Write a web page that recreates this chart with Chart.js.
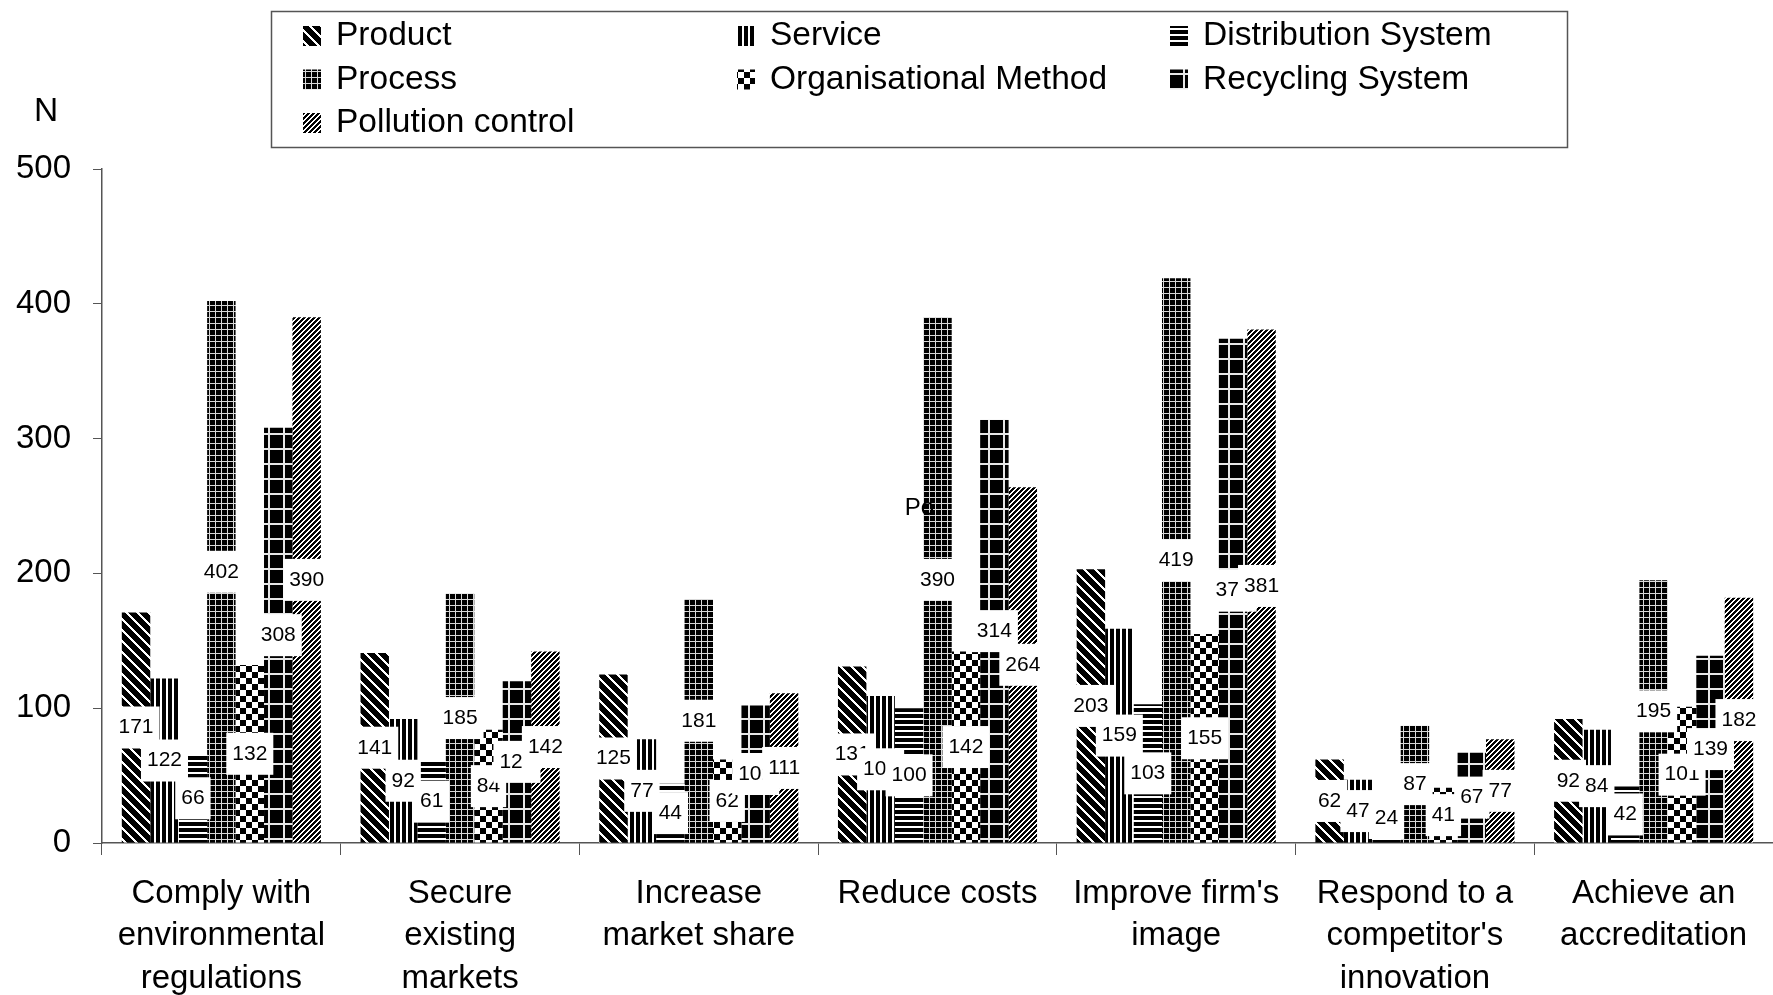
<!DOCTYPE html>
<html>
<head>
<meta charset="utf-8">
<script src="https://cdn.jsdelivr.net/npm/chart.js@4"></script>
<style>
  html, body { margin: 0; padding: 0; background: #fff; }
  canvas { display: block; }
</style>
</head>
<body>
<canvas id="motivesChart" width="1773" height="995"></canvas>
<script>
// Motives for environmental innovation, counts (N) by type of innovation
const categories = [
  ['Comply with', 'environmental', 'regulations'],
  ['Secure', 'existing', 'markets'],
  ['Increase', 'market share'],
  ['Reduce costs'],
  ["Improve firm's", 'image'],
  ['Respond to a', "competitor's", 'innovation'],
  ['Achieve an', 'accreditation']
];
const seriesNames = ['Product', 'Service', 'Distribution System', 'Process',
  'Organisational Method', 'Recycling System', 'Pollution control'];
const productVals      = [171, 141, 125, 131, 203, 62, 92];
const serviceVals      = [122, 92, 77, 109, 159, 47, 84];
const distributionVals = [66, 61, 44, 100, 103, 24, 42];
const processVals      = [402, 185, 181, 390, 419, 87, 195];
const organisationVals = [132, 84, 62, 142, 155, 41, 101];
const recyclingVals    = [308, 120, 102, 314, 374, 67, 139];
const pollutionVals    = [390, 142, 111, 264, 381, 77, 182];
const yTicks = [0, 100, 200, 300, 400, 500];

const FONT = '"Liberation Sans", Arial, sans-serif';
const canvas = document.getElementById('motivesChart');
const ctx = canvas.getContext('2d');

// black & white fill patterns, built pixel by pixel
function tile(size, dark) {
  const c = document.createElement('canvas');
  c.width = size; c.height = size;
  const g = c.getContext('2d');
  const img = g.createImageData(size, size);
  for (let y = 0; y < size; y++) {
    for (let x = 0; x < size; x++) {
      const v = Math.round(255 * (1 - dark(x, y)));
      const i = (y * size + x) * 4;
      img.data[i] = img.data[i + 1] = img.data[i + 2] = v;
      img.data[i + 3] = 255;
    }
  }
  g.putImageData(img, 0, 0);
  return ctx.createPattern(c, 'repeat');
}
const mod = (a, n) => ((a % n) + n) % n;
const patterns = [
  tile(11, (x, y) => mod(x - y, 11) < 8 ? 1 : 0),                 // Product
  tile(6, (x, y) => x < 4 ? 1 : 0),                                // Service
  tile(6, (x, y) => y < 4 ? 1 : 0),                                // Distribution
  tile(6, (x, y) => (x < 5 && y < 5) ? 1 : 0.15),                  // Process
  tile(12, (x, y) => (Math.floor(x / 6) + Math.floor(y / 6)) % 2 ? 0 : 1), // Organisational
  tile(15, (x, y) => (x < 13 && y < 13) ? 1 : 0.1),                // Recycling
  tile(5, (x, y) => mod(x + y, 5) < 3 ? 1 : 0)                     // Pollution
];

const values = [productVals, serviceVals, distributionVals, processVals,
  organisationVals, recyclingVals, pollutionVals];

// white-boxed value labels in the middle of each bar
const valueLabels = {
  id: 'valueLabels',
  afterDatasetsDraw(chart) {
    const c = chart.ctx;
    const bottom = chart.chartArea.bottom;
    c.save();
    c.font = '21px ' + FONT;
    c.textAlign = 'center';
    c.textBaseline = 'middle';
    chart.data.datasets.forEach((ds, di) => {
      chart.getDatasetMeta(di).data.forEach((bar, i) => {
        const txt = String(ds.data[i]);
        const w = c.measureText(txt).width + 12;
        const h = 42;
        const cy = Math.min((bar.y + bar.base) / 2, bottom - 25);
        c.fillStyle = '#fff';
        c.fillRect(bar.x - w / 2, cy - h / 2, w, h);
        c.fillStyle = '#000';
        c.fillText(txt, bar.x, cy);
      });
    });
    c.restore();
  }
};

// boxed legend in three columns, axis caption
const legendBox = {
  id: 'legendBox',
  afterDraw(chart) {
    const c = chart.ctx;
    c.save();
    c.strokeStyle = '#555';
    c.lineWidth = 1.5;
    c.strokeRect(271.5, 11.5, 1296, 136);
    c.font = '33.5px ' + FONT;
    c.textBaseline = 'middle';
    c.textAlign = 'left';
    const cols = [303, 737, 1170];
    chart.data.datasets.forEach((ds, i) => {
      const x = cols[i % 3];
      const y = 36 + Math.floor(i / 3) * 43.5;
      c.fillStyle = ds.backgroundColor;
      c.fillRect(x, y - 10, 18, 20);
      c.fillStyle = '#000';
      c.fillText(ds.label, x + 33, y);
    });
    c.fillText('N', 34, 112);
    // stray text left above the Reduce costs group
    const xs = chart.scales.x, ys = chart.scales.y;
    c.font = '24px ' + FONT;
    c.textAlign = 'center';
    c.fillText('Po', xs.getPixelForValue(3) - 18, ys.getPixelForValue(248));
    c.restore();
  }
};

new Chart(ctx, {
  type: 'bar',
  data: {
    labels: categories,
    datasets: seriesNames.map((name, i) => ({
      label: name,
      data: values[i],
      backgroundColor: patterns[i],
      borderWidth: 0,
      categoryPercentage: 0.834,
      barPercentage: 1.0
    }))
  },
  options: {
    responsive: false,
    devicePixelRatio: 1,
    animation: false,
    layout: { padding: { top: 169, left: 0, right: 0, bottom: 0 } },
    plugins: {
      legend: { display: false },
      tooltip: { enabled: false }
    },
    scales: {
      x: {
        ticks: {
          color: '#000',
          font: { size: 33, family: FONT, lineHeight: 1.3 },
          padding: 17,
          maxRotation: 0,
          autoSkip: false
        },
        grid: { drawOnChartArea: false, tickLength: 12, color: '#555', offset: true },
        border: { color: '#555', width: 1.5 },
        afterFit: (s) => { s.height = 152; }
      },
      y: {
        min: 0,
        max: 500,
        afterBuildTicks: (s) => { s.ticks = yTicks.map(v => ({ value: v })); },
        ticks: { color: '#000', font: { size: 33, family: FONT }, padding: 22 },
        grid: { drawOnChartArea: false, tickLength: 9, color: '#555' },
        border: { color: '#555', width: 1.5 },
        afterFit: (s) => { s.width = 102; }
      }
    }
  },
  plugins: [valueLabels, legendBox]
});
</script>
</body>
</html>
